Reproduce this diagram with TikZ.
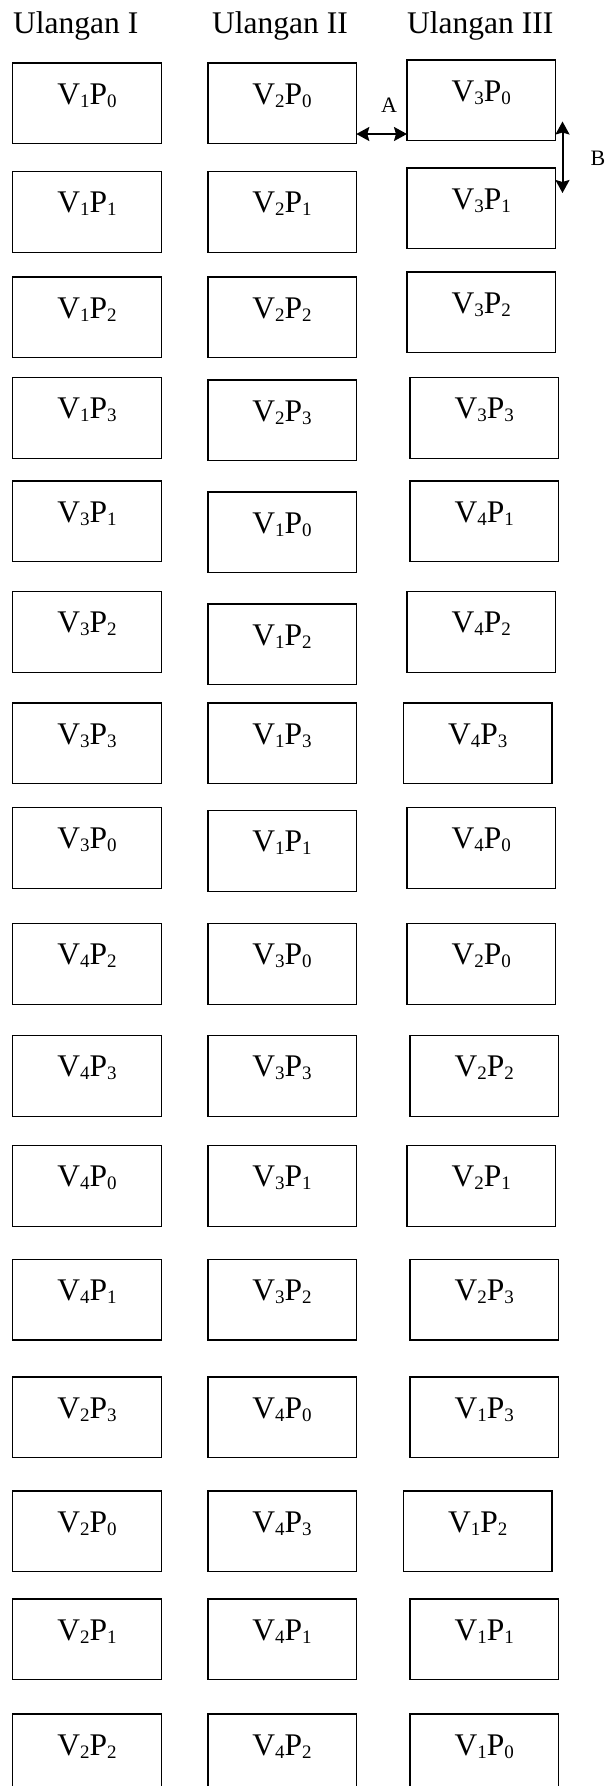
\documentclass[tikz,border=0pt]{standalone}
\usepackage{fontspec}
\setmainfont{Liberation Serif}
\usetikzlibrary{arrows.meta,positioning}
\newcommand{\ix}[1]{\raisebox{-0.1em}{\fontsize{19}{19}\selectfont #1}}

\begin{document}
\begin{tikzpicture}[
x=1pt,y=-1pt,
petak/.style={
rectangle,
draw=black,
line width=1.4pt,
anchor=north west,
outer sep=0pt,
inner sep=0pt,
minimum width=148.5pt,
minimum height=80.5pt,
text height=22pt,
text depth=20.5pt,
font=\fontsize{31.5}{36}\selectfont
},
judul/.style={anchor=base west,inner sep=0pt,font=\fontsize{31.5}{36}\selectfont},
huruf/.style={anchor=base,inner sep=0pt,font=\fontsize{22}{26}\selectfont},
panah/.style={{Stealth[length=13pt,width=14pt,inset=2pt]}-{Stealth[length=13pt,width=14pt,inset=2pt]},line width=2pt}
]
\useasboundingbox (0,0) rectangle (608,1786);

% judul kolom
\node[judul] (h1) at (13,33) {Ulangan I};
\node[judul] (h2) at (212,33) {Ulangan II};
\node[judul] (h3) at (407,33) {Ulangan III};

% ulangan I
\foreach \v/\p/\y [count=\r] in {1/0/63,1/1/171.7,1/2/277,1/3/377.7,3/1/481,3/2/591.7,3/3/703,3/0/807.7,
4/2/923.7,4/3/1035.7,4/0/1145.7,4/1/1259.3,2/3/1377,2/0/1491,2/1/1599,2/2/1714}
\node[petak] (u1-\r) at (12.7,\y) {V\ix{\v}P\ix{\p}};

% ulangan II
\foreach \v/\p/\y [count=\r] in {2/0/63,2/1/171.7,2/2/277,2/3/380,1/0/492,1/2/604,1/3/703,1/1/810.7,
3/0/923.7,3/3/1035.7,3/1/1145.7,3/2/1259.3,4/0/1377,4/3/1491,4/1/1599,4/2/1714}
\node[petak] (u2-\r) at (207.8,\y) {V\ix{\v}P\ix{\p}};

% ulangan III
\foreach \v/\p/\x/\y [count=\r] in {3/0/407/60,3/1/407/168,3/2/407/272,3/3/410/377.7,4/1/410/481,4/2/407/591.7,
4/3/403.5/703,4/0/407/807.7,2/0/407/923.7,2/2/410/1035.7,2/1/407/1145.7,2/3/410/1259.3,
1/3/410/1377,1/2/403.5/1491,1/1/410/1599,1/0/410/1714}
\node[petak] (u3-\r) at (\x,\y) {V\ix{\v}P\ix{\p}};

% jarak A dan B
\coordinate (aL) at ([yshift=9.5pt]u2-1.south east);
\draw[panah] (aL) -- (aL -| u3-1.west);
\node[huruf] (la) at (389,112) {A};

\coordinate (bT) at ([xshift=7pt,yshift=19pt]u3-1.south east);
\coordinate (bB) at ([xshift=7pt,yshift=-25pt]u3-2.north east);
\draw[panah] (bT) -- (bB);
\node[huruf] (lb) at (598,165.7) {B};

\end{tikzpicture}
\end{document}
